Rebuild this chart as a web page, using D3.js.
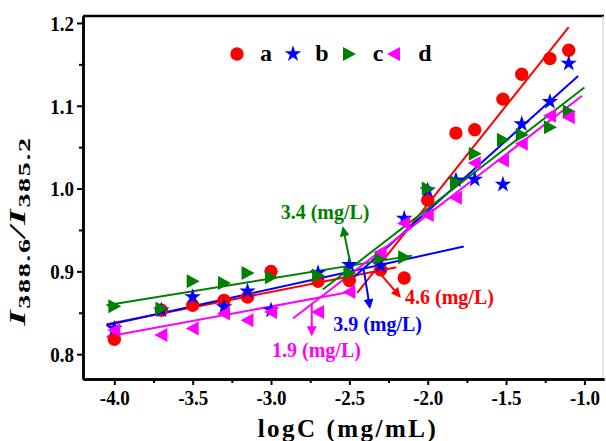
<!DOCTYPE html>
<html>
<head>
<meta charset="utf-8">
<script src="https://cdn.jsdelivr.net/npm/d3@7"></script>
<style>
  body { margin: 0; background: #fff; }
  text { font-family: "Liberation Serif", "Times New Roman", serif; font-weight: bold; }
</style>
</head>
<body>
<div id="chart"></div>
<script>
// logC (mg/mL) positions shared by all four series
const logC = [-4.0, -3.7, -3.5, -3.3, -3.15, -3.0, -2.7, -2.5, -2.3, -2.15, -2.0, -1.82, -1.7, -1.52, -1.4, -1.22, -1.1];

const seriesA = [0.818, 0.853, 0.859, 0.865, 0.869, 0.900, 0.888, 0.889, 0.902, 0.892, 0.986, 1.067, 1.071, 1.108, 1.138, 1.157, 1.167];
const seriesB = [0.831, 0.853, 0.869, 0.857, 0.876, 0.853, 0.898, 0.908, 0.907, 0.964, 0.998, 1.010, 1.011, 1.005, 1.078, 1.105, 1.151];
const seriesC = [0.858, 0.855, 0.888, 0.886, 0.898, 0.893, 0.895, 0.898, 0.916, 0.917, 1.000, 1.008, 1.042, 1.059, 1.065, 1.074, 1.093];
const seriesD = [0.829, 0.823, 0.831, 0.849, 0.841, 0.851, 0.851, 0.875, 0.923, 0.958, 0.968, 0.989, 1.031, 1.034, 1.054, 1.088, 1.086];

// linear fits, two segments per series: [x1, y1, x2, y2]
const fitA = [[-4.05, 0.836, -2.2, 0.905], [-2.45, 0.874, -1.10, 1.195]];
const fitB = [[-4.05, 0.835, -1.77, 0.930], [-2.5, 0.888, -1.04, 1.136]];
const fitC = [[-4.05, 0.859, -2.1, 0.919], [-2.67, 0.878, -1.0, 1.122]];
const fitD = [[-4.05, 0.821, -2.5, 0.875], [-2.86, 0.843, -1.015, 1.112]];

// detection limit arrows: [x1, y1, x2, y2], label, label position
const lodArrows = [
    {key: "c", pts: [-2.495, 0.911, -2.54, 0.952], text: "3.4 (mg/L)", lx: -2.655, ly: 0.963, anchor: "middle"},
    {key: "b", pts: [-2.41, 0.904, -2.37, 0.857], text: "3.9 (mg/L)", lx: -2.32, ly: 0.828, anchor: "middle"},
    {key: "a", pts: [-2.32, 0.901, -2.18, 0.870], text: "4.6 (mg/L)", lx: -2.145, ly: 0.860, anchor: "start"},
    {key: "d", pts: [-2.74, 0.861, -2.74, 0.824], text: "1.9 (mg/L)", lx: -2.71, ly: 0.797, anchor: "middle"}
];

const xTicks = [-4.0, -3.5, -3.0, -2.5, -2.0, -1.5, -1.0];
const xMinor = [-3.75, -3.25, -2.75, -2.25, -1.75, -1.25];
const yTicks = [0.8, 0.9, 1.0, 1.1, 1.2];
const yMinor = [0.85, 0.95, 1.05, 1.15];

const seriesKeys = ["a", "b", "c", "d"];
const colors = {a: "#ff0000", b: "#0000ff", c: "#008000", d: "#ff00ff"};
const values = {a: seriesA, b: seriesB, c: seriesC, d: seriesD};
const fits = {a: fitA, b: fitB, c: fitC, d: fitD};

const W = 606, H = 441;
const margin = {top: 16, right: 2, bottom: 62, left: 83};

const svg = d3.select("#chart").append("svg")
    .attr("width", W)
    .attr("height", H);

const x = d3.scaleLinear().domain([-4.2, -0.875]).range([margin.left, W - margin.right]);
const y = d3.scaleLinear().domain([0.77, 1.2084]).range([H - margin.bottom, margin.top]);

// marker shapes
const triRight = "M-6,-7L7,0L-6,7Z";
const triLeft = "M6,-7L-7,0L6,7Z";
function markerPath(key) {
    if (key === "a") return d3.symbol(d3.symbolCircle, 140)();
    if (key === "b") return d3.symbol(d3.symbolStar, 85)();
    if (key === "c") return triRight;
    return triLeft;
}

// frame
svg.append("line")
    .attr("x1", x.range()[0]).attr("x2", x.range()[1])
    .attr("y1", y.range()[1]).attr("y2", y.range()[1])
    .attr("stroke", "#000").attr("stroke-width", 2.5);
svg.append("line")
    .attr("x1", x.range()[1] - 1).attr("x2", x.range()[1] - 1)
    .attr("y1", y.range()[1]).attr("y2", y.range()[0])
    .attr("stroke", "#ccc").attr("stroke-width", 1);

// axes
const fmt = d => d3.format(".1f")(d).replace("\u2212", "-");

const gx = svg.append("g").attr("transform", `translate(0,${y.range()[0]})`);
const gxMajor = gx.append("g").call(d3.axisBottom(x).tickValues(xTicks).tickSize(6).tickSizeOuter(0).tickFormat(fmt));
gx.append("g").call(d3.axisBottom(x).tickValues(xMinor).tickSize(4).tickSizeOuter(0).tickFormat(""));

const gy = svg.append("g").attr("transform", `translate(${x.range()[0]},0)`);
const gyMajor = gy.append("g").call(d3.axisLeft(y).tickValues(yTicks).tickSize(6).tickSizeOuter(0).tickFormat(fmt));
gy.append("g").call(d3.axisLeft(y).tickValues(yMinor).tickSize(4).tickSizeOuter(0).tickFormat(""));

svg.selectAll(".domain").attr("stroke-width", 2.5);
svg.selectAll(".tick line").attr("stroke-width", 2);
gxMajor.selectAll(".tick text")
    .attr("font-size", 19).attr("fill", "#000")
    .attr("y", 8).attr("dy", "0.75em")
    .attr("transform", "scale(1,1.15)");
gyMajor.selectAll(".tick text")
    .attr("font-size", 19).attr("fill", "#000")
    .attr("x", -9).attr("dy", "0.34em")
    .attr("transform", "scale(1,1.15)");

// axis titles
svg.append("text")
    .attr("x", 348).attr("y", 437)
    .attr("text-anchor", "middle")
    .attr("font-size", 25)
    .attr("letter-spacing", 2.5)
    .text("logC (mg/mL)");

const yl = svg.append("text")
    .attr("transform", "translate(25,231) rotate(-90) scale(1.65,1)")
    .attr("text-anchor", "middle")
    .attr("letter-spacing", 1)
    .attr("font-size", 24);
yl.append("tspan").attr("font-style", "italic").text("I");
yl.append("tspan").attr("font-size", 17).attr("dy", 5).text("388.6");
yl.append("tspan").attr("font-style", "italic").attr("dy", -5).text("/I");
yl.append("tspan").attr("font-size", 17).attr("dy", 5).text("385.2");

// fit lines
seriesKeys.forEach(k => {
    svg.append("g").selectAll("line")
        .data(fits[k])
        .join("line")
        .attr("x1", d => x(d[0])).attr("y1", d => y(d[1]))
        .attr("x2", d => x(d[2])).attr("y2", d => y(d[3]))
        .attr("stroke", colors[k])
        .attr("stroke-width", 2);
});

// points
seriesKeys.forEach(k => {
    svg.append("g").selectAll("path")
        .data(values[k].map((v, i) => [logC[i], v]))
        .join("path")
        .attr("d", markerPath(k))
        .attr("transform", d => `translate(${x(d[0])},${y(d[1])})`)
        .attr("fill", colors[k]);
});

// arrows
const defs = svg.append("defs");
seriesKeys.forEach(k => {
    defs.append("marker")
        .attr("id", "arrow-" + k)
        .attr("viewBox", "0 0 10 10")
        .attr("refX", 8).attr("refY", 5)
        .attr("markerWidth", 5).attr("markerHeight", 5)
        .attr("orient", "auto")
        .append("path")
        .attr("d", "M0,0L10,5L0,10Z")
        .attr("fill", colors[k]);
});

lodArrows.forEach(a => {
    svg.append("line")
        .attr("x1", x(a.pts[0])).attr("y1", y(a.pts[1]))
        .attr("x2", x(a.pts[2])).attr("y2", y(a.pts[3]))
        .attr("stroke", colors[a.key])
        .attr("stroke-width", 2)
        .attr("marker-end", `url(#arrow-${a.key})`);
    svg.append("text")
        .attr("x", x(a.lx)).attr("y", y(a.ly))
        .attr("text-anchor", a.anchor)
        .attr("font-size", 20)
        .attr("fill", colors[a.key])
        .text(a.text);
});

// legend
const legendX = [237, 293, 349, 394];
const legend = svg.append("g");
seriesKeys.forEach((k, i) => {
    legend.append("path")
        .attr("d", markerPath(k))
        .attr("transform", `translate(${legendX[i]},54)`)
        .attr("fill", colors[k]);
    legend.append("text")
        .attr("x", legendX[i] + 29 + (i === 3 ? 2 : 0)).attr("y", 61)
        .attr("text-anchor", "middle")
        .attr("font-size", 24)
        .text(k);
});
</script>
</body>
</html>
